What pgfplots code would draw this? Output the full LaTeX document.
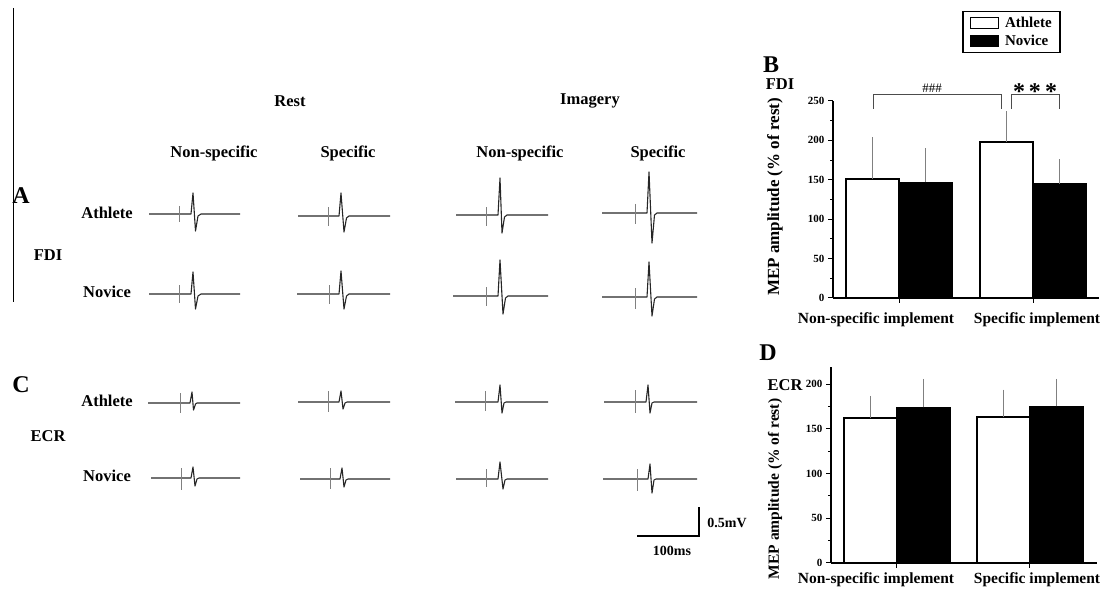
\documentclass[border=0pt]{standalone}
\usepackage{fontspec}
\setmainfont{Liberation Serif}
\usepackage{pgfplots}
\pgfplotsset{compat=1.18}
\begin{document}
\begin{tikzpicture}[
  lab/.style={font=\bfseries\fontsize{16.5}{16.5}\selectfont, inner sep=0pt},
  big/.style={font=\bfseries\fontsize{24}{24}\selectfont, inner sep=0pt},
  trace/.style={black!85, line width=1.1pt, line join=round, mark=none},
  stim/.style={gray, line width=0.6pt, mark=none}]
% ---------- panel A / C (traces), pixel coordinates ----------
\begin{axis}[at={(0pt,0pt)},anchor=south west,width=1113pt,height=596pt,scale only axis,
  xmin=0,xmax=1113,ymin=0,ymax=596,y dir=reverse,hide axis,clip=false]
\addplot[black,line width=1pt,mark=none] coordinates {(13,8) (13,302)};
% FDI rest
\addplot[trace] coordinates {(149,214)(191,214)(193,193)(195.5,231)(198,216)(201,214)(240,214)};
\addplot[stim] coordinates {(179,206)(179,222)};
\addplot[trace] coordinates {(298,216)(339,216)(341,193)(344,232)(346.5,218)(349,216)(390,216)};
\addplot[stim] coordinates {(328,207)(328,226)};
\addplot[trace] coordinates {(149,294)(191,294)(193,272)(195.5,309)(198,296)(201,294)(240,294)};
\addplot[stim] coordinates {(179,285)(179,303)};
\addplot[trace] coordinates {(297,294)(339,294)(341,271)(344,309)(346.5,296)(349,294)(390,294)};
\addplot[stim] coordinates {(329,285)(329,304)};
% FDI imagery
\addplot[trace] coordinates {(456,215)(498,215)(500,178)(502,233)(504.5,217)(507,215)(548,215)};
\addplot[stim] coordinates {(486,207)(486,226)};
\addplot[trace] coordinates {(602,213)(647,213)(649,172)(652,243)(654.5,215)(657,213)(697,213)};
\addplot[stim] coordinates {(635,204)(635,224)};
\addplot[trace] coordinates {(453,296)(498,296)(500,260)(503,314)(505.5,298)(508,296)(548,296)};
\addplot[stim] coordinates {(486,287)(486,306)};
\addplot[trace] coordinates {(602,297)(647,297)(649,262)(652,316)(654.5,299)(657,297)(697,297)};
\addplot[stim] coordinates {(635,288)(635,309)};
% ECR rest
\addplot[trace] coordinates {(148,403)(190,403)(192,392)(193.5,410)(195.5,404)(197,403)(240,403)};
\addplot[stim] coordinates {(180,393)(180,413)};
\addplot[trace] coordinates {(298,402)(339,402)(341,391)(343,409)(345,403)(347,402)(390,402)};
\addplot[stim] coordinates {(328,391)(328,412)};
\addplot[trace] coordinates {(151,478)(191,478)(193,467)(195,486)(197,479)(199,478)(240,478)};
\addplot[stim] coordinates {(181,468)(181,490)};
\addplot[trace] coordinates {(300,479)(340,479)(342,468)(344,487)(346,480)(348,479)(390,479)};
\addplot[stim] coordinates {(330,468)(330,489)};
% ECR imagery
\addplot[trace] coordinates {(455,402)(498,402)(500,385)(502,413)(504,403)(506,402)(548,402)};
\addplot[stim] coordinates {(485,391)(485,411)};
\addplot[trace] coordinates {(604,402)(646,402)(648,385)(650,413)(652,403)(654,402)(697,402)};
\addplot[stim] coordinates {(635,390)(635,413)};
\addplot[trace] coordinates {(456,479)(498,479)(500,462)(503,489)(505,480)(507,479)(548,479)};
\addplot[stim] coordinates {(486,469)(486,487)};
\addplot[trace] coordinates {(603,479)(648,479)(650,464)(652,493)(654,480)(656,479)(697,479)};
\addplot[stim] coordinates {(637,469)(637,491)};
% scale bar
\addplot[black,line width=1.2pt,mark=none] coordinates {(637,536)(699,536)(699,507)};
% brackets of panel B
\addplot[black!70,line width=1pt,mark=none] coordinates {(873,109)(873,95)(1001,95)(1001,109)};
\addplot[black!70,line width=1pt,mark=none] coordinates {(1011,109)(1011,95)(1059,95)(1059,109)};
% texts
\node[lab] at (axis cs:290,101) {Rest};
\node[lab] at (axis cs:590,101) {Imagery};
\node[lab] at (axis cs:214,153) {Non-specific};
\node[lab] at (axis cs:348,153) {Specific};
\node[lab] at (axis cs:520,153) {Non-specific};
\node[lab] at (axis cs:658,153) {Specific};
\node[big] at (axis cs:21,196) {A};
\node[lab] at (axis cs:107,213) {Athlete};
\node[lab] at (axis cs:48,255) {FDI};
\node[lab] at (axis cs:107,292) {Novice};
\node[big] at (axis cs:21,385) {C};
\node[lab] at (axis cs:107,401) {Athlete};
\node[lab] at (axis cs:48,436) {ECR};
\node[lab] at (axis cs:107,476) {Novice};
\node[lab,font=\bfseries\fontsize{14}{14}\selectfont] at (axis cs:727,523) {0.5mV};
\node[lab,font=\bfseries\fontsize{14}{14}\selectfont] at (axis cs:672,551) {100ms};
\node[big] at (axis cs:771,65) {B};
\node[lab] at (axis cs:780,84) {FDI};
\node[big] at (axis cs:768,353) {D};
\node[lab] at (axis cs:785,385) {ECR};
\node[lab,font=\fontsize{13}{13}\selectfont] at (axis cs:932,88) {\#\#\#};
\node[lab,font=\bfseries\fontsize{24}{24}\selectfont] at (axis cs:1035,92) {*\,*\,*};
\node[lab,font=\bfseries\fontsize{17}{17}\selectfont,rotate=90] at (axis cs:775,197) {MEP amplitude (\% of rest)};
\node[lab,font=\bfseries\fontsize{15.5}{15.5}\selectfont,rotate=90] at (axis cs:775,489) {MEP amplitude (\% of rest)};
\node[lab,font=\bfseries\fontsize{15.5}{15.5}\selectfont] at (axis cs:876,320) {Non-specific implement};
\node[lab,font=\bfseries\fontsize{15.5}{15.5}\selectfont] at (axis cs:1037,320) {Specific implement};
\node[lab,font=\bfseries\fontsize{15.5}{15.5}\selectfont] at (axis cs:876,580) {Non-specific implement};
\node[lab,font=\bfseries\fontsize{15.5}{15.5}\selectfont] at (axis cs:1037,580) {Specific implement};
\end{axis}
% ---------- bar panels ----------
\pgfplotsset{barax/.style={scale only axis, width=266pt,
  axis lines=left, axis line style={-, line width=1.3pt},
  xtick={1,2}, xticklabels={}, tick align=outside,
  tick style={black, line width=1pt}, major tick length=5pt, minor tick length=3pt,
  minor y tick num=1,
  /pgf/number format/assume math mode=true,
  yticklabel style={font=\bfseries\fontsize{11}{11}\selectfont},
  clip=false}}
\begin{axis}[barax, at={(833pt,298pt)}, anchor=south west, height=197pt,
  xmin=0.507, xmax=2.4925, ymin=0, ymax=250, ytick={0,50,...,250},
  legend style={at={(axis description cs:0.485,1.457)}, anchor=north west,
    draw=black, line width=1.5pt, font=\bfseries\fontsize{15}{15}\selectfont,
    inner xsep=7pt, inner ysep=4pt, row sep=3pt, column sep=5pt,
    nodes={inner sep=1.5pt}},
  legend cell align=left,
  legend image code/.code={\draw[#1,/tikz/.cd,line width=0.8pt] (0pt,-5.5pt) rectangle (28pt,5.5pt);}]
\addplot[ybar, bar shift=0pt, bar width=0.3955, fill=white, draw=black, line width=1.3pt,
  error bars/.cd, y dir=plus, y explicit,
  error bar style={gray, line width=0.8pt}, error mark options={gray, mark size=2.5pt, line width=0.8pt}]
  coordinates {(0.802,151) +- (0,50) (1.802,198) +- (0,36)};
\addlegendentry{Athlete}
\addplot[ybar, bar shift=0pt, bar width=0.3955, fill=black, draw=black, line width=1.3pt,
  error bars/.cd, y dir=plus, y explicit,
  error bar style={gray, line width=0.8pt}, error mark options={gray, mark size=2.5pt, line width=0.8pt}]
  coordinates {(1.198,147) +- (0,40) (2.198,145) +- (0,28)};
\addlegendentry{Novice}
\end{axis}
\begin{axis}[barax, at={(831pt,33pt)}, anchor=south west, height=196pt,
  xmin=0.504, xmax=2.504, ymin=0, ymax=219, ytick={0,50,...,200}]
\addplot[ybar, bar shift=0pt, bar width=0.398, fill=white, draw=black, line width=1.3pt,
  error bars/.cd, y dir=plus, y explicit,
  error bar style={gray, line width=0.8pt}, error mark options={gray, mark size=2.5pt, line width=0.8pt}]
  coordinates {(0.801,162) +- (0,22) (1.801,163) +- (0,28)};
\addplot[ybar, bar shift=0pt, bar width=0.398, fill=black, draw=black, line width=1.3pt,
  error bars/.cd, y dir=plus, y explicit,
  error bar style={gray, line width=0.8pt}, error mark options={gray, mark size=2.5pt, line width=0.8pt}]
  coordinates {(1.199,174) +- (0,29) (2.199,175) +- (0,28)};
\end{axis}
\path (0pt,0pt) rectangle (1113pt,596pt);
\end{tikzpicture}
\end{document}
